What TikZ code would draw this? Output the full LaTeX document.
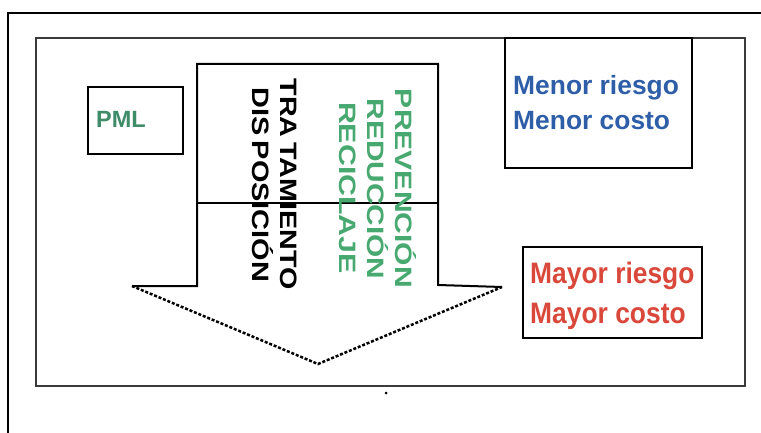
\documentclass[tikz,border=0pt]{standalone}
\usepackage{fontspec}
\setmainfont{Liberation Sans}
\usepackage{graphicx}
\definecolor{menorblue}{HTML}{2E5EA8}
\definecolor{mayorred}{HTML}{D9483B}
\definecolor{pmlgreen}{HTML}{3F8C68}
\definecolor{colgreen}{HTML}{47A870}
\definecolor{framegray}{HTML}{3A3A3A}
\tikzset{
  outerframe/.style={line width=2.8pt, draw=black},
  innerframe/.style={line width=2pt, draw=framegray},
  labelbox/.style={draw=black, line width=2.2pt, inner sep=0pt, rectangle},
  arrowline/.style={line width=2pt, draw=black},
  wingline/.style={line width=2.5pt, draw=black, dash pattern=on 3pt off 1.8pt},
  vtext/.style={rotate=-90, anchor=base, inner sep=0pt, font=\bfseries\fontsize{23.7}{28}\selectfont},
  htext/.style={anchor=base west, inner sep=0pt, font=\bfseries\fontsize{26.4}{30}\selectfont}
}
\begin{document}
\begin{tikzpicture}[x=1pt,y=-1pt]
\useasboundingbox (0,0) rectangle (761,433);
% outer frame (cut off at right and bottom)
\draw[outerframe] (8,433) -- (8,13) -- (761,13);
% inner frame
\draw[innerframe] (36,38) rectangle (745,386);
% arrow
\coordinate (lw) at (132,286);
\coordinate (ls) at (197,286);
\coordinate (lt) at (197,64);
\coordinate (rt) at (438,64);
\coordinate (rs) at (438,285);
\coordinate (rw) at (502,287);
\coordinate (tip) at (318,364);
\coordinate (ml) at (197,203);
\coordinate (mr) at (438,203);
\draw[arrowline, line join=miter] (lw) -- (ls) -- (lt) -- (rt) -- (rs) -- (rw);
\draw[wingline] (lw) -- (tip) -- (rw);
\draw[line width=2.5pt] (ml) -- (mr);
% boxes
\node[labelbox, line width=2.5pt, minimum width=95pt, minimum height=67pt] (pmlbox) at (135.5,120.5) {};
\node[labelbox, line width=2pt, minimum width=187pt, minimum height=130pt] (menorbox) at (598.5,103) {};
\node[labelbox, line width=2.8pt, minimum width=179pt, minimum height=91pt] (mayorbox) at (612.5,292.5) {};
% box texts
\node[htext, font=\bfseries\fontsize{23.5}{28}\selectfont, text=pmlgreen] (pml) at (96,128) {PML};
\node[htext, text=menorblue] (menor1) at (513,95) {Menor riesgo};
\node[htext, text=menorblue] (menor2) at (513,129.5) {Menor costo};
\node[htext, text=mayorred] (mayor1) at (530,283) {\scalebox{1}[1.12]{Mayor riesgo}};
\node[htext, text=mayorred] (mayor2) at (530,323) {\scalebox{1}[1.12]{Mayor costo}};
% vertical texts
\node[vtext, text=black] (trat) at (280,184) {\scalebox{1.21}[1]{TRA\,TAMIENTO}};
\node[vtext, text=black] (disp) at (252,185) {\scalebox{1.22}[1]{DIS\,POSICIÓN}};
\node[vtext, text=colgreen] (prev) at (395,188.5) {\scalebox{1.27}[1]{PREVENCIÓN}};
\node[vtext, text=colgreen] (redu) at (367,189) {\scalebox{1.26}[1]{REDUCCIÓN}};
\node[vtext, text=colgreen] (reci) at (339,188) {\scalebox{1.28}[1]{RECICLAJE}};
% small dot below the frame
\fill (386,393) circle (1.5pt);
\end{tikzpicture}
\end{document}
